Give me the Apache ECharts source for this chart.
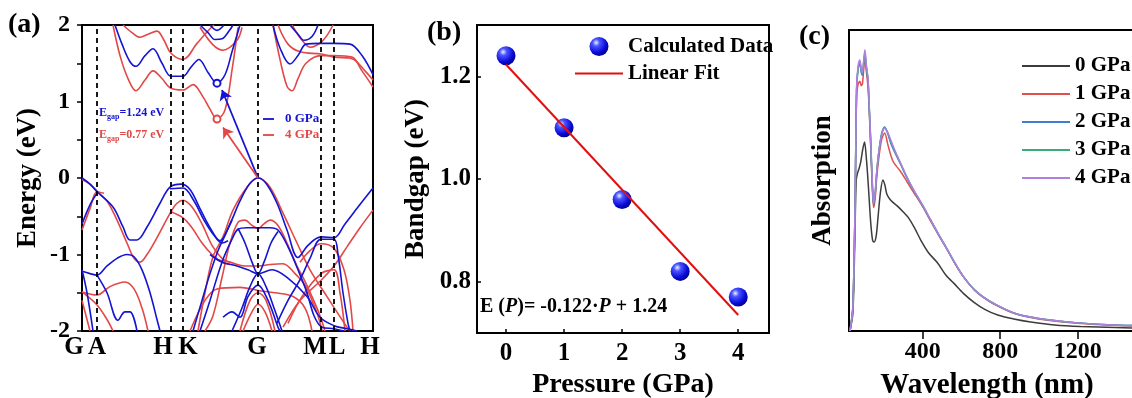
<!DOCTYPE html>
<html>
<head>
<meta charset="utf-8">
<script src="https://cdn.jsdelivr.net/npm/echarts@6/dist/echarts.min.js"></script>
<style>
  html, body { margin: 0; padding: 0; background: #fff; }
  #chart { width: 1132px; height: 398px; }
</style>
</head>
<body>
<div id="chart"></div>
<script>
// ---- (a) band structure: k-path distance units, energy in eV ----
const kPoints = [0, 15, 89, 101, 176, 239, 252, 291]
const kLabels = ['G', 'A', 'H', 'K', 'G', 'M', 'L', 'H']
const kLabelShift = [-8, 0, -8, 5, -1, -6, 3, -3]

// 0 GPa bands
const bands0 = [
  [[33,2.0],[40,1.75],[48,1.52],[54,1.46],[63,1.6],[71,1.69],[80,1.5],[89,1.33],[101,1.33],[109,1.45],[117,1.55],[126,1.38],[135,1.24],[143,1.35],[150,1.65],[158,2.0]],
  [[118,2.0],[126,1.9],[133,1.81],[140,1.82],[147,1.92],[151,2.0]],
  [[128,2.0],[135,1.93],[142,2.0]],
  [[191,2.0],[198,1.7],[208,1.49],[216,1.6],[224,1.75],[239,1.76],[252,1.76],[268,1.75],[280,1.6],[291,1.35]],
  [[208,2.0],[216,1.88],[222,1.8],[230,1.85],[236,2.0]],
  [[0,0.0],[8,-0.08],[15,-0.18],[31,-0.38],[41,-0.64],[48,-0.81],[55,-0.81],[65,-0.64],[78,-0.33],[88,-0.12],[99,-0.08],[108,-0.15],[118,-0.4],[128,-0.65],[138,-0.82],[148,-0.6],[158,-0.3],[168,-0.07],[176,0.0],[184,-0.07],[195,-0.33],[205,-0.68],[216,-1.04],[226,-0.88],[239,-0.77],[252,-0.78],[263,-0.6],[276,-0.38],[291,-0.13]],
  [[88,-0.14],[101,-0.13],[112,-0.3],[122,-0.55],[132,-0.75],[140,-0.85],[146,-0.82]],
  [[0,-0.6],[8,-0.35],[15,-0.2]],
  [[0,-1.22],[8,-1.25],[15,-1.27],[25,-1.15],[35,-1.05],[45,-1.0],[52,-1.03],[60,-1.2],[68,-1.5],[75,-1.85],[78,-2.0]],
  [[0,-1.2],[5,-1.5],[11,-2.0]],
  [[15,-1.27],[25,-1.5],[36,-1.86],[43,-1.75],[48,-1.75],[55,-2.0]],
  [[111,-2.0],[120,-1.6],[128,-1.25],[136,-0.95],[143,-0.75],[150,-0.55]],
  [[118,-2.0],[128,-1.6],[140,-1.1],[150,-0.8],[156,-0.67],[165,-0.65],[176,-0.65],[188,-0.65],[196,-0.68],[206,-0.9],[216,-1.2],[225,-1.5],[232,-1.8],[240,-1.95],[252,-1.97],[262,-2.0]],
  [[156,-0.66],[163,-0.85],[170,-1.1],[176,-1.25],[182,-1.1],[189,-0.85],[196,-0.7]],
  [[150,-2.0],[160,-1.7],[168,-1.42],[176,-1.25],[184,-1.42],[192,-1.7],[200,-2.0]],
  [[128,-1.0],[140,-1.1],[155,-1.15],[166,-1.2],[176,-1.25],[190,-1.2],[205,-1.3],[225,-1.55],[238,-1.82],[252,-1.93],[265,-1.97],[275,-2.0]],
  [[141,-1.82],[150,-1.75],[158,-1.82],[166,-1.55],[176,-1.4],[186,-1.6],[196,-1.95],[198,-2.0]],
  [[195,-1.9],[206,-1.6],[218,-1.33],[228,-1.05],[239,-0.8],[252,-0.8],[256,-1.0],[261,-1.5],[266,-1.9],[268,-2.0]]
]

// 4 GPa bands
const bands4 = [
  [[31,2.0],[38,1.6],[46,1.3],[54,1.14],[63,1.28],[71,1.4],[80,1.3],[88,1.18],[101,1.15],[111,1.22],[121,1.06],[128,0.9],[135,0.77],[143,0.89],[150,1.41],[156,1.97]],
  [[41,2.0],[50,1.9],[58,1.84],[66,1.88],[75,1.92],[82,1.8],[89,1.63],[101,1.55],[115,1.76],[128,1.95],[132,2.0]],
  [[118,1.97],[131,1.74],[141,1.67],[155,1.8],[160,1.97]],
  [[191,2.0],[198,1.55],[205,1.2],[210,1.14],[216,1.3],[224,1.5],[239,1.6],[252,1.6],[270,1.58],[280,1.4],[291,1.19]],
  [[196,2.0],[206,1.75],[218,1.65],[239,1.62],[252,1.58],[270,1.56],[283,1.4],[291,1.28]],
  [[210,2.0],[220,1.8],[228,1.71],[241,1.8],[251,2.0]],
  [[0,-0.02],[8,-0.08],[15,-0.17],[25,-0.3],[35,-0.55],[45,-0.85],[52,-1.05],[58,-1.1],[65,-1.0],[75,-0.78],[89,-0.44],[95,-0.33],[101,-0.29],[110,-0.38],[120,-0.6],[130,-0.88],[140,-1.05],[148,-1.1]],
  [[89,-0.44],[101,-0.52],[110,-0.65],[120,-0.85],[130,-1.0],[140,-1.1],[148,-1.13]],
  [[0,-0.68],[8,-0.4],[15,-0.18],[22,-0.2]],
  [[0,-1.49],[15,-1.53],[28,-1.42],[43,-1.36],[52,-1.45],[60,-1.7],[66,-2.0]],
  [[0,-1.49],[15,-1.66],[25,-1.85],[31,-2.0]],
  [[0,-1.6],[8,-2.0]],
  [[116,-2.0],[123,-1.5],[131,-1.03],[141,-0.77],[151,-0.42],[165,-0.12],[176,0.0],[188,-0.12],[201,-0.46],[215,-0.85],[228,-1.2],[245,-1.55],[265,-1.95],[268,-2.0]],
  [[123,-2.0],[131,-1.8],[140,-1.3],[148,-0.85],[156,-0.58],[163,-0.55],[170,-0.62],[176,-0.66],[182,-0.6],[188,-0.55],[196,-0.62],[205,-0.85],[215,-1.15],[223,-1.35],[230,-1.55],[238,-1.8],[243,-2.0]],
  [[135,-1.07],[148,-1.1],[163,-1.15],[176,-1.15],[188,-1.13],[201,-1.12],[213,-1.25],[223,-1.4],[230,-1.6],[236,-1.8],[240,-2.0]],
  [[108,-2.0],[123,-1.6],[135,-1.45],[158,-1.43],[176,-1.47],[193,-1.5],[211,-1.55],[223,-1.7],[230,-2.0]],
  [[158,-2.0],[168,-1.6],[176,-1.5],[184,-1.6],[193,-2.0]],
  [[161,-2.0],[170,-1.75],[176,-1.65],[183,-1.75],[190,-2.0]],
  [[218,-1.1],[228,-0.95],[239,-0.86],[252,-0.92],[262,-1.2],[268,-1.6],[271,-2.0]],
  [[201,-1.95],[218,-1.6],[238,-1.35],[252,-1.15],[265,-0.9],[278,-0.65],[291,-0.42]],
  [[206,-1.9],[220,-1.55],[239,-1.25],[252,-1.2],[258,-1.5],[263,-2.0]]
]

const vbm = [176, 0]
const cbm0 = [135, 1.24]
const cbm4 = [135, 0.77]
const arrowTip0 = [140, 1.15]
const arrowTip4 = [141, 0.66]

// ---- (b) bandgap vs pressure ----
const pressure = [0, 1, 2, 3, 4]
const bandgap = [1.24, 1.10, 0.96, 0.82, 0.77]
const fitX = [0, 4]
const fitY = [1.223, 0.735]
const gapTicks = [0.8, 1.0, 1.2]

// ---- (c) absorption spectra (wavelength nm, arb. units) ----
const absNames = ['0 GPa', '1 GPa', '2 GPa', '3 GPa', '4 GPa']
const absColors = ['#3c3c3c', '#e0504e', '#3a7fd0', '#3aaa7a', '#b07fe0']
const abs0 = [[25,0],[40,6],[50,30],[57,50],[64,52.5],[72,54],[80,56],[90,60],[100,62.8],[110,57],[120,48],[132,36],[142,30],[150,29.6],[160,31.5],[170,38],[182,46],[195,50.2],[205,48.5],[215,45.5],[228,44],[245,42.8],[270,41.5],[300,39.5],[328,37.5],[360,34],[390,30.2],[430,26],[477,22.6],[520,18.5],[560,15.9],[610,12.5],[663,9.6],[720,7.2],[787,5.3],[870,4],[957,3.0],[1080,2],[1215,1.5],[1484,1.0],[1660,0.9]]
const abs1 = [[25,0],[40,8],[52,44],[59,78],[67,82],[76,83],[83,81.5],[89,82],[96,87],[102,91],[110,86],[118,81],[125,72],[132,61],[140,48],[147,41],[155,44],[163,51],[173,57],[188,63.5],[204,65.8],[220,62],[235,58.5],[250,56],[286,53],[320,49.5],[354,46],[400,41.3],[441,36.5],[485,31.5],[529,26.7],[570,22],[612,17.8],[670,13.4],[735,10.2],[800,7.9],[870,5.9],[950,4.6],[1045,3.6],[1200,2.6],[1386,1.9],[1660,1.4]]
const abs2 = [[25,0],[40,8],[52,45],[59,80],[67,87],[76,89],[83,86],[89,85],[96,89],[102,92],[110,87],[118,83],[125,73],[132,62.5],[140,49],[147,42],[155,45.5],[163,52.5],[173,59],[188,65.5],[204,67.8],[220,65.5],[235,62.5],[260,58.8],[286,55.4],[320,50.7],[354,46.6],[400,41.6],[441,36.8],[485,31.7],[529,26.8],[570,22.1],[612,17.9],[670,13.5],[735,10.3],[800,8],[870,6],[950,4.7],[1045,3.7],[1200,2.7],[1386,2.0],[1660,1.5]]
const abs3 = [[25,0],[40,8],[52,45],[59,80],[67,87.5],[76,89.5],[83,86.5],[89,85.5],[96,89.5],[102,92.5],[110,87.5],[118,83.5],[125,73.5],[132,63],[140,49.5],[147,42.3],[155,45.8],[163,52.8],[173,59],[188,65.2],[204,67.6],[220,65.8],[235,63],[260,59.2],[286,55.6],[320,50.9],[354,46.7],[400,41.7],[441,36.9],[485,31.8],[529,26.9],[570,22.2],[612,17.9],[670,13.5],[735,10.3],[800,8],[870,6],[950,4.7],[1045,3.7],[1200,2.7],[1386,2.0],[1660,1.5]]
const abs4 = [[25,0],[40,8],[52,45],[59,81],[67,88],[76,90],[83,87],[89,86],[96,90],[102,93.4],[110,88],[118,84],[125,74],[132,63.5],[140,50],[147,42.5],[155,46],[163,53],[173,59],[188,65],[204,67.4],[220,66],[235,63.5],[260,59.5],[286,55.8],[320,51],[354,46.8],[400,41.8],[441,36.9],[485,31.8],[529,26.9],[570,22.2],[612,17.9],[670,13.5],[735,10.3],[800,8],[870,6],[950,4.7],[1045,3.7],[1200,2.7],[1386,2.0],[1660,1.5]]
const absData = [abs0, abs1, abs2, abs3, abs4]
const wlTicks = [400, 800, 1200, 1600]

const FONT = "'Liberation Serif', 'DejaVu Serif', serif"
const BLUE = '#1414d2'
const RED = '#e24848'
// thin horizontal bar used as a legend icon for line series
const lineIcon = 'path://M0,0L24,0L24,1L0,1Z'
const shortLineIcon = 'path://M0,0L6,0L6,1L0,1Z'

const chart = echarts.init(document.getElementById('chart'))

// rich styles to nudge the k-point labels like the original figure
const kRich = {}
kLabelShift.forEach((s, i) => {
  kRich['p' + i] = {
    fontFamily: FONT, fontWeight: 'bold', fontSize: 25, color: '#000',
    padding: s < 0 ? [0, -2 * s, 0, 0] : [0, 0, 0, 2 * s]
  }
})

const boldText = (size) => ({ fontFamily: FONT, fontWeight: 'bold', fontSize: size, color: '#000' })
const blackLine = { onZero: false, lineStyle: { color: '#000', width: 2 } }

const bandSeries = (bands, name, color) => bands.map(b => ({
  name: name,
  type: 'line',
  xAxisIndex: 0, yAxisIndex: 0,
  data: b,
  smooth: 0.35,
  symbol: 'none',
  lineStyle: { color: color, width: 1.6 },
  itemStyle: { color: color },
  silent: true,
  z: 3
}))

const sphere = new echarts.graphic.RadialGradient(0.35, 0.3, 0.75, [
  { offset: 0, color: '#eef2ff' },
  { offset: 0.25, color: '#4a55ff' },
  { offset: 0.7, color: '#0a0ad8' },
  { offset: 1, color: '#00008a' }
])

const series = []
  .concat(bandSeries(bands4, 'band4', RED))
  .concat(bandSeries(bands0, 'band0', BLUE))

// high symmetry dashed lines
series[0].markLine = {
  silent: true,
  symbol: 'none',
  label: { show: false },
  lineStyle: { color: '#000', type: [5, 4], width: 1.8 },
  data: kPoints.slice(1, -1).map(v => ({ xAxis: v }))
}

series.push({
  name: 'arrows',
  type: 'lines',
  coordinateSystem: 'cartesian2d',
  xAxisIndex: 0, yAxisIndex: 0,
  symbol: ['none', 'arrow'],
  symbolSize: 10,
  silent: true,
  z: 5,
  data: [
    { coords: [vbm, arrowTip0], lineStyle: { color: BLUE, width: 1.8, opacity: 1 } },
    { coords: [vbm, arrowTip4], lineStyle: { color: RED, width: 1.8, opacity: 1 } }
  ]
})
series.push({
  name: 'cbm',
  type: 'scatter',
  xAxisIndex: 0, yAxisIndex: 0,
  symbol: 'circle',
  symbolSize: 7,
  silent: true,
  z: 6,
  data: [
    { value: cbm0, itemStyle: { color: '#fff', borderColor: BLUE, borderWidth: 2, opacity: 1 } },
    { value: cbm4, itemStyle: { color: '#fff', borderColor: RED, borderWidth: 2, opacity: 1 } }
  ]
})

// (b)
series.push({
  name: 'Calculated Data',
  type: 'scatter',
  xAxisIndex: 1, yAxisIndex: 1,
  data: pressure.map((p, i) => [p, bandgap[i]]),
  symbol: 'circle',
  symbolSize: 19,
  itemStyle: { color: sphere, opacity: 1 },
  z: 4
})
series.push({
  name: 'Linear Fit',
  type: 'line',
  xAxisIndex: 1, yAxisIndex: 1,
  data: fitX.map((x, i) => [x, fitY[i]]),
  symbol: 'none',
  lineStyle: { color: '#e01010', width: 2 },
  itemStyle: { color: '#e01010' },
  z: 5
})

// (c)
absNames.forEach((n, i) => {
  series.push({
    name: n,
    type: 'line',
    xAxisIndex: 2, yAxisIndex: 2,
    data: absData[i],
    smooth: 0.3,
    symbol: 'none',
    lineStyle: { color: absColors[i], width: 1.5 },
    itemStyle: { color: absColors[i] }
  })
})

const gridBase = { show: true, borderColor: '#000', borderWidth: 2, containLabel: false, outerBoundsMode: 'none' }

const option = {
  animation: false,
  backgroundColor: '#fff',
  grid: [
    { ...gridBase, left: 82, top: 25, width: 291, height: 306 },
    { ...gridBase, left: 477, top: 25, width: 292, height: 308 },
    { ...gridBase, left: 849, top: 30, width: 318, height: 301 }
  ],
  xAxis: [
    {
      gridIndex: 0, type: 'value', min: 0, max: 291,
      axisLine: blackLine,
      axisTick: { show: false },
      splitLine: { show: false },
      axisLabel: {
        customValues: kPoints,
        margin: 4,
        formatter: (v) => {
          const i = kPoints.indexOf(v)
          return '{p' + i + '|' + kLabels[i] + '}'
        },
        rich: kRich
      }
    },
    {
      gridIndex: 1, type: 'value', min: -0.5, max: 4.53,
      name: 'Pressure (GPa)', nameLocation: 'middle', nameGap: 36,
      nameTextStyle: boldText(28),
      axisLine: blackLine,
      axisTick: { customValues: pressure, inside: true, length: 4, lineStyle: { width: 1.5 } },
      splitLine: { show: false },
      axisLabel: { customValues: pressure, margin: 8, ...boldText(25) }
    },
    {
      gridIndex: 2, type: 'value', min: 20, max: 1660,
      name: 'Wavelength (nm)', nameLocation: 'middle', nameGap: 40,
      nameTextStyle: { ...boldText(29), padding: [0, 42, 0, 0] },
      axisLine: blackLine,
      axisTick: { customValues: wlTicks, length: 8, lineStyle: { width: 1.5 } },
      splitLine: { show: false },
      axisLabel: { customValues: wlTicks, margin: 9, formatter: v => String(v), ...boldText(24) }
    }
  ],
  yAxis: [
    {
      gridIndex: 0, type: 'value', min: -2, max: 2, interval: 1,
      name: 'Energy (eV)', nameLocation: 'middle', nameGap: 40,
      nameTextStyle: boldText(27),
      axisLine: blackLine,
      axisTick: { length: 5, lineStyle: { width: 1.5 } },
      minorTick: { show: true, splitNumber: 2, length: 5, lineStyle: { color: '#000', width: 1.5 } },
      splitLine: { show: false },
      axisLabel: { margin: 12, ...boldText(24) }
    },
    {
      gridIndex: 1, type: 'value', min: 0.7, max: 1.3,
      name: 'Bandgap (eV)', nameLocation: 'middle', nameGap: 47,
      nameTextStyle: boldText(27),
      axisLine: blackLine,
      axisTick: { customValues: gapTicks, inside: true, length: 4, lineStyle: { width: 1.5 } },
      splitLine: { show: false },
      axisLabel: { customValues: gapTicks, margin: 6, formatter: v => v.toFixed(1), ...boldText(25) }
    },
    {
      gridIndex: 2, type: 'value', min: 0, max: 100,
      name: 'Absorption', nameLocation: 'middle', nameGap: 12,
      nameTextStyle: boldText(27),
      axisLine: blackLine,
      axisTick: { show: false },
      splitLine: { show: false },
      axisLabel: { show: false }
    }
  ],
  legend: [
    {
      data: [
        { name: 'band0', icon: shortLineIcon, textStyle: { color: BLUE } },
        { name: 'band4', icon: shortLineIcon, textStyle: { color: RED } }
      ],
      orient: 'vertical', left: 258, top: 107,
      itemWidth: 11, itemHeight: 8, itemGap: 2,
      selectedMode: false,
      formatter: n => (n === 'band0' ? '0 GPa' : '4 GPa'),
      textStyle: { fontFamily: FONT, fontWeight: 'bold', fontSize: 13, lineHeight: 14, padding: [0, 0, 0, 6] }
    },
    {
      data: [
        { name: 'Calculated Data', icon: 'circle' },
        { name: 'Linear Fit', icon: lineIcon }
      ],
      orient: 'vertical', left: 570, top: 31,
      itemWidth: 48, itemHeight: 19, itemGap: 6,
      selectedMode: false,
      textStyle: { fontFamily: FONT, fontWeight: 'bold', fontSize: 21, color: '#000' }
    },
    {
      data: absNames.map(n => ({ name: n, icon: lineIcon })),
      orient: 'vertical', left: 1017, top: 50,
      itemWidth: 48, itemHeight: 14, itemGap: 6,
      selectedMode: false,
      textStyle: { fontFamily: FONT, fontWeight: 'bold', fontSize: 21, lineHeight: 22, color: '#000' }
    }
  ],
  graphic: [
    { type: 'text', left: 8, top: 11, style: { text: '(a)', font: 'bold 28px ' + FONT, fill: '#000' } },
    { type: 'text', left: 427, top: 19, style: { text: '(b)', font: 'bold 28px ' + FONT, fill: '#000' } },
    { type: 'text', left: 799, top: 23, style: { text: '(c)', font: 'bold 28px ' + FONT, fill: '#000' } },
    {
      type: 'text', left: 99, top: 107,
      style: {
        text: '{b|E}{s|gap}{b|=1.24 eV}',
        rich: {
          b: { fontFamily: FONT, fontWeight: 'bold', fontSize: 12, fill: BLUE },
          s: { fontFamily: FONT, fontWeight: 'bold', fontSize: 8, fill: BLUE, padding: [7, 0, 0, 0] }
        }
      }
    },
    {
      type: 'text', left: 99, top: 129,
      style: {
        text: '{b|E}{s|gap}{b|=0.77 eV}',
        rich: {
          b: { fontFamily: FONT, fontWeight: 'bold', fontSize: 12, fill: RED },
          s: { fontFamily: FONT, fontWeight: 'bold', fontSize: 8, fill: RED, padding: [7, 0, 0, 0] }
        }
      }
    },
    {
      type: 'text', left: 480, top: 297,
      style: {
        text: '{n|E (}{i|P}{n|)= -0.122·}{i|P}{n| + 1.24}',
        rich: {
          n: { fontFamily: FONT, fontWeight: 'bold', fontSize: 20, fill: '#000' },
          i: { fontFamily: FONT, fontWeight: 'bold', fontStyle: 'italic', fontSize: 20, fill: '#000' }
        }
      }
    }
  ],
  series: series
}

chart.setOption(option)
</script>
</body>
</html>
